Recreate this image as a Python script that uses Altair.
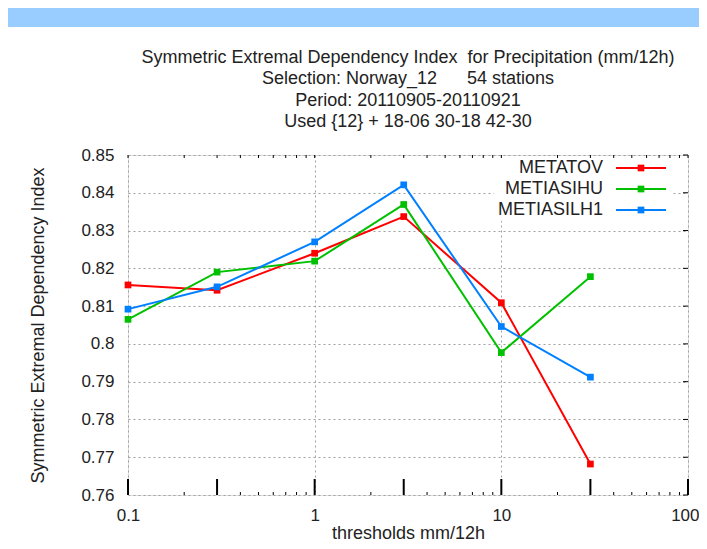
import altair as alt
import pandas as pd

# ---- data ----
thresholds = [0.1, 0.3, 1, 3, 10, 30]
series_names = ["METATOV", "METIASIHU", "METIASILH1"]
metatov = [0.8156, 0.8142, 0.8240, 0.8337, 0.8109, 0.7682]
metiasihu = [0.8065, 0.8190, 0.8219, 0.8369, 0.7977, 0.8178]
metiasilh1 = [0.8092, 0.8151, 0.8270, 0.8421, 0.8046, 0.7912]
series_colors = ["#ff0000", "#00c000", "#0080ff"]

NB = "\u00a0"
title_lines = [
    "Symmetric Extremal Dependency Index" + NB * 2 + "for Precipitation (mm/12h)",
    "Selection: Norway_12" + NB * 6 + "54 stations",
    "Period: 20110905-20110921",
    "Used {12} + 18-06 30-18 42-30",
]
x_label_values = [0.1, 1, 10, 100]
y_label_values = [round(0.76 + 0.01 * i, 2) for i in range(10)]
major_x_ticks = [0.1, 0.3, 1, 3, 10, 30, 100]
minor_x_ticks = [m * d for d in (0.1, 1, 10) for m in (2, 4, 5, 6, 7, 8, 9)]

FONT = "Liberation Sans"
FS = 18
FS_TICK = 17
TXT = "#222222"
W, H = 560, 340
PAD_L, PAD_T, PAD_R, PAD_B = 120, 147, 11, 46

rows = []
for name, vals in zip(series_names, [metatov, metiasihu, metiasilh1]):
    for t, v in zip(thresholds, vals):
        rows.append({"threshold": t, "sedi": v, "series": name})
df = pd.DataFrame(rows)

xscale = alt.Scale(type="log", domain=[0.1, 100], nice=False)
yscale = alt.Scale(domain=[0.76, 0.85], nice=False, zero=False)
cscale = alt.Scale(domain=series_names, range=series_colors)

xaxis = alt.Axis(
    values=x_label_values, tickCount=20, format="~g", grid=True, gridDash=[2, 3],
    gridColor="#a0a0a0", gridWidth=1, ticks=False, domain=False, labelFont=FONT,
    labelFontSize=FS_TICK, labelColor=TXT, labelPadding=12, labelFlush=False,
    labelOverlap=False,
    labelAlign=alt.ExprRef("datum.value >= 100 ? 'right' : 'center'"),
    labelOffset=alt.ExprRef("datum.value >= 100 ? 11 : 0"),
    title="thresholds mm/12h", titleFont=FONT,
    titleFontSize=FS, titleFontWeight="normal", titleColor=TXT,
    titleX=280, titleY=38, titleBaseline="middle",
)
yaxis = alt.Axis(
    values=y_label_values, tickCount=20, format="~g", grid=True, gridDash=[2, 3],
    gridColor="#a0a0a0", gridWidth=1, ticks=False, domain=False, labelFont=FONT,
    labelFontSize=FS_TICK, labelColor=TXT, labelPadding=14, labelOverlap=False,
    labelFlush=False,
    title="Symmetric Extremal Dependency Index",
    titleFont=FONT, titleFontSize=FS, titleFontWeight="normal", titleColor=TXT,
    titleX=-90, titleY=170, titleAlign="center", titleBaseline="middle", titleAngle=270,
)

base = alt.Chart(df)

lines = base.mark_line(strokeWidth=2).encode(
    x=alt.X("threshold:Q", scale=xscale, axis=xaxis),
    y=alt.Y("sedi:Q", scale=yscale, axis=yaxis),
    color=alt.Color("series:N", scale=cscale, legend=None),
    detail="series:N",
)
points = base.mark_point(filled=True, shape="square", size=45, opacity=1).encode(
    x=alt.X("threshold:Q", scale=xscale),
    y=alt.Y("sedi:Q", scale=yscale),
    color=alt.Color("series:N", scale=cscale, legend=None),
)

# tick marks drawn inside the frame
tick_df = pd.DataFrame(
    [{"t": v, "kind": "major"} for v in major_x_ticks]
    + [{"t": v, "kind": "minor"} for v in minor_x_ticks]
)
bottom_major = alt.Chart(tick_df[tick_df.kind == "major"]).mark_rule(
    color="black", strokeWidth=2
).encode(x=alt.X("t:Q", scale=xscale), y=alt.value(H), y2=alt.value(H - 16))
bottom_minor = alt.Chart(tick_df[tick_df.kind == "minor"]).mark_rule(
    color="black", strokeWidth=1
).encode(x=alt.X("t:Q", scale=xscale), y=alt.value(H), y2=alt.value(H - 3))
top_ticks = alt.Chart(tick_df).mark_rule(color="black", strokeWidth=1).encode(
    x=alt.X("t:Q", scale=xscale), y=alt.value(0), y2=alt.value(3)
)
ytick_df = pd.DataFrame({"v": y_label_values})
right_ticks = alt.Chart(ytick_df).mark_rule(color="black", strokeWidth=1).encode(
    y=alt.Y("v:Q", scale=yscale), x=alt.value(W), x2=alt.value(W - 5)
)

# opaque legend box
legend_bg = alt.Chart(pd.DataFrame({"a": [0]})).mark_rect(color="white").encode(
    x=alt.value(366), x2=alt.value(545), y=alt.value(5), y2=alt.value(66)
)
legend_layers = []
for i, (name, col) in enumerate(zip(series_names, series_colors)):
    yy = 13 + 21 * i
    d = pd.DataFrame({"name": [name]})
    legend_layers.append(
        alt.Chart(d).mark_text(align="right", baseline="middle", font=FONT, fontSize=FS,
                               color=TXT).encode(
            x=alt.value(475), y=alt.value(yy), text="name:N")
    )
    legend_layers.append(
        alt.Chart(d).mark_rule(color=col, strokeWidth=2).encode(
            x=alt.value(488), x2=alt.value(538), y=alt.value(yy))
    )
    legend_layers.append(
        alt.Chart(d).mark_point(filled=True, shape="square", size=45, color=col, opacity=1).encode(
            x=alt.value(513), y=alt.value(yy))
    )

# title lines (centred over the plot area)
title_layers = []
for i, line in enumerate(title_lines):
    d = pd.DataFrame({"line": [line]})
    title_layers.append(
        alt.Chart(d).mark_text(align="center", baseline="middle", font=FONT, fontSize=FS,
                               color=TXT).encode(
            x=alt.value(W / 2), y=alt.value(-97 + 21.3 * i), text="line:N")
    )

# top light-blue band of the page
band = alt.Chart(pd.DataFrame({"a": [0]})).mark_rect(color="#99ccff").encode(
    x=alt.value(-PAD_L), x2=alt.value(W + PAD_R), y=alt.value(-PAD_T), y2=alt.value(-PAD_T + 19)
)

chart = alt.layer(
    band, lines, legend_bg, points, bottom_major, bottom_minor, top_ticks, right_ticks,
    *legend_layers, *title_layers,
).properties(
    width=W,
    height=H,
    autosize=alt.AutoSizeParams(type="none"),
    padding={"left": PAD_L, "top": PAD_T, "right": PAD_R, "bottom": PAD_B},
).configure_view(
    stroke="black", strokeWidth=1
).configure(background="white")

chart.save("out.html", embed_options={"renderer": "svg", "actions": False})
